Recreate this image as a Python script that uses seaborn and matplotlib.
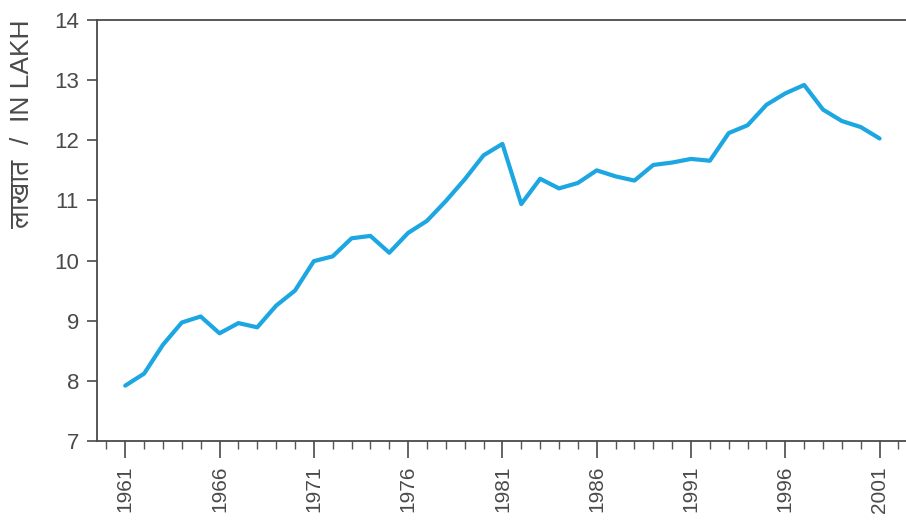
import matplotlib
matplotlib.use("Agg")
import matplotlib.pyplot as plt
import seaborn as sns
import pandas as pd
from matplotlib.ticker import MultipleLocator

years = list(range(1961, 2002))
values = [7.92, 8.12, 8.60, 8.97, 9.07, 8.79, 8.96, 8.89, 9.25, 9.50,
          9.99, 10.07, 10.37, 10.41, 10.13, 10.46, 10.66, 10.99, 11.35, 11.75,
          11.94, 10.94, 11.36, 11.20, 11.29, 11.50, 11.40, 11.33, 11.59, 11.63,
          11.69, 11.66, 12.12, 12.25, 12.59, 12.78, 12.92, 12.51, 12.32, 12.22,
          12.03]
major_years = [1961, 1966, 1971, 1976, 1981, 1986, 1991, 1996, 2001]
y_ticks = [7, 8, 9, 10, 11, 12, 13, 14]
label_hi = "लाखात"
label_en = "/  IN LAKH"

df = pd.DataFrame({"Year": years, "Value": values})

sns.set_style("ticks")
plt.rcParams["font.family"] = ["Liberation Sans", "DejaVu Sans"]
deva_fonts = ["Noto Sans Devanagari", "Noto Sans", "Liberation Sans", "DejaVu Sans"]
grey = "#4a4a4a"

fig = plt.figure(figsize=(9.06, 5.21), dpi=100)
ax = fig.add_axes([0.107, 0.1536, 0.893, 0.808])

sns.lineplot(data=df, x="Year", y="Value", ax=ax, color="#1ca6e2", linewidth=3.0)

ax.set_xlim(1959.5, 2002.4)
ax.set_ylim(7, 14)
ax.set_xticks(major_years)
ax.set_xticklabels([str(y) for y in major_years], rotation=90, fontsize=15, color=grey)
ax.xaxis.set_minor_locator(MultipleLocator(1))
ax.set_yticks(y_ticks)
ax.set_yticklabels([str(v) for v in y_ticks], fontsize=16, color=grey)
ax.tick_params(axis="x", which="major", length=12, width=1.2, color=grey, pad=6)
ax.tick_params(axis="x", which="minor", length=5.5, width=1.0, color="#555555")
ax.tick_params(axis="y", which="major", length=7, width=1.2, color=grey, pad=6)
ax.set_xlabel("")
ax.set_ylabel("")

# y label: english part on top, marathi part (bold) below it
fig.text(22 / 906, 1 - 20 / 521, label_en, rotation=90, ha="center", va="top",
         fontsize=19, color=grey)
fig.text(22 / 906, 1 - 160 / 521, label_hi, rotation=90, ha="center", va="top",
         fontsize=19, fontweight="bold", color=grey, family=deva_fonts)

for side in ["left", "bottom", "top"]:
    ax.spines[side].set_color(grey)
    ax.spines[side].set_linewidth(1.3)
ax.spines["right"].set_visible(False)

fig.savefig("out.png", dpi=100)
